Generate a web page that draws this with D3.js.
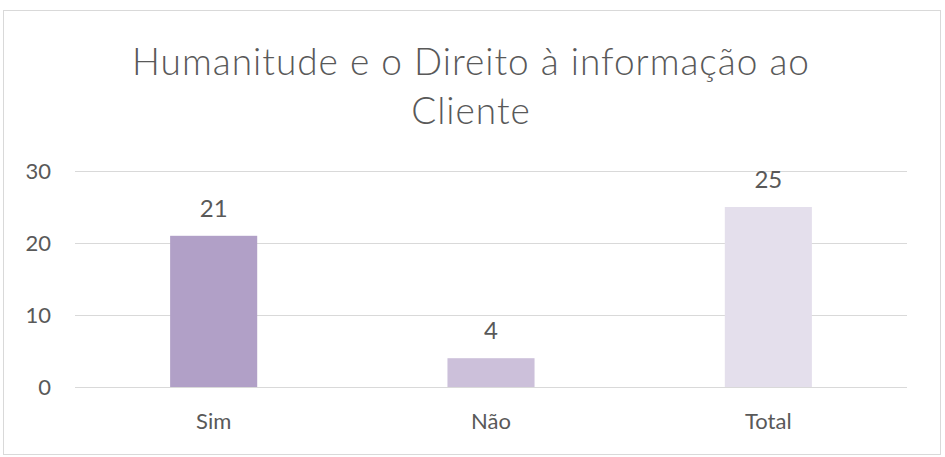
<!doctype html>
<html>
<head>
  <style type="text/css">
    body { margin: 0; background: #fff; }
    text { font-family: Lato, "Open Sans", sans-serif; fill: #595959; }
    .grid line { stroke: #d9d9d9; stroke-width: 1; shape-rendering: crispEdges; }
    .grid path { display: none; }
    .y-axis path, .y-axis line, .x-axis path, .x-axis line { display: none; }
  </style>
  <title>Humanitude</title>
</head>
<body>
<svg class="chart"></svg>

<script type="text/javascript" src="https://cdnjs.cloudflare.com/ajax/libs/d3/7.8.5/d3.min.js"></script>
<script type="text/javascript">

var categories = ["Sim", "Não", "Total"];
var values = [21, 4, 25];
var barColors = ["#b1a0c7", "#ccc0da", "#e4dfec"];
var yTicks = [0, 10, 20, 30];
var titleLines = ["Humanitude e o Direito à informação ao", "Cliente"];

var width = 945,
    height = 457,
    margin = { top: 171, right: 38, bottom: 70, left: 75 },
    plotW = width - margin.left - margin.right,
    plotH = height - margin.top - margin.bottom;

var svg = d3.select(".chart")
  .attr("width", width)
  .attr("height", height);

// chart frame
svg.append("rect")
  .attr("x", 3.5).attr("y", 10.5)
  .attr("width", 937).attr("height", 444)
  .attr("fill", "#fff")
  .attr("stroke", "#d9d9d9");

svg.selectAll(".title")
  .data(titleLines)
  .enter().append("text")
  .attr("class", "title")
  .attr("x", 471)
  .attr("y", function(d, i) { return 75 + i * 49; })
  .attr("text-anchor", "middle")
  .style("font-size", "37px")
  .style("font-weight", 300)
  .style("letter-spacing", "1px")
  .text(function(d) { return d; });

var chart = svg.append("g")
  .attr("transform", "translate(" + margin.left + "," + margin.top + ")");

var x = d3.scaleBand()
  .domain(categories)
  .range([0, plotW])
  .paddingInner(0.686)
  .paddingOuter(0.343);

var y = d3.scaleLinear()
  .domain([0, 30])
  .range([plotH, 0]);

chart.append("g")
  .attr("class", "grid")
  .call(d3.axisLeft(y).tickValues(yTicks).tickSize(-plotW).tickFormat(""));

chart.append("g")
  .attr("class", "y-axis")
  .call(d3.axisLeft(y).tickValues(yTicks).tickSize(0).tickPadding(24))
  .selectAll("text")
  .style("font-size", "22px")
  .attr("fill", "#595959");

chart.selectAll(".bar")
  .data(values)
  .enter().append("rect")
  .attr("class", "bar")
  .attr("x", function(d, i) { return x(categories[i]); })
  .attr("width", x.bandwidth())
  .attr("y", function(d) { return y(d); })
  .attr("height", function(d) { return plotH - y(d); })
  .attr("fill", function(d, i) { return barColors[i]; });

chart.selectAll(".label")
  .data(values)
  .enter().append("text")
  .attr("class", "label")
  .attr("x", function(d, i) { return x(categories[i]) + x.bandwidth() / 2; })
  .attr("y", function(d) { return y(d) - 19; })
  .attr("text-anchor", "middle")
  .style("font-size", "24px")
  .text(function(d) { return d; });

chart.append("g")
  .attr("class", "x-axis")
  .attr("transform", "translate(0," + plotH + ")")
  .call(d3.axisBottom(x).tickSize(0).tickPadding(26))
  .selectAll("text")
  .style("font-size", "22px")
  .attr("fill", "#595959");

</script>
</body>
</html>
